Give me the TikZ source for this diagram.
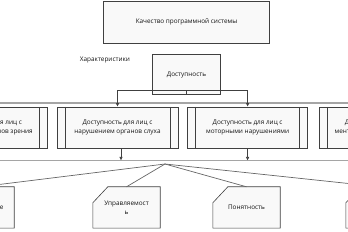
\documentclass[tikz,border=0pt]{standalone}
\usepackage{fontspec}
\setmainfont{Open Sans}
\usetikzlibrary{arrows.meta, positioning, calc, backgrounds}
\definecolor{myline}{RGB}{64,64,64}
\definecolor{mygray}{RGB}{165,165,165}
\definecolor{myfill}{RGB}{249,249,249}
\definecolor{mytext}{RGB}{20,20,20}
\tikzset{
  block/.style={rectangle, draw=myline, fill=myfill, minimum width=166pt,
    minimum height=42pt, font=\fontsize{6.4}{9}\selectfont, text=mytext,
    line width=0.6pt},
  procblock/.style={rectangle, draw=myline, fill=myfill, minimum width=121pt,
    minimum height=41pt, align=center, font=\fontsize{6.4}{9}\selectfont,
    text=mytext, line width=0.6pt,
    path picture={
      \draw[myline, line width=0.6pt]
        ([xshift=8pt]path picture bounding box.north west) --
        ([xshift=8pt]path picture bounding box.south west);
      \draw[myline, line width=0.6pt]
        ([xshift=-8pt]path picture bounding box.north east) --
        ([xshift=-8pt]path picture bounding box.south east);
    }},
  cardblock/.style={rectangle, minimum width=67pt, minimum height=41pt,
    align=center, font=\fontsize{6.4}{9}\selectfont, text=mytext},
  cardline/.style={draw=myline, fill=myfill, line width=0.6pt},
  arrow/.style={-{Latex[length=3.5pt,width=3.5pt]}, line width=0.6pt, color=myline},
  line/.style={line width=0.6pt, color=myline},
  fanline/.style={line width=0.7pt, color=myline!80},
  bar/.style={line width=1.2pt, color=mygray}
}

\begin{document}
\begin{tikzpicture}[x=1pt, y=-1pt]
  \useasboundingbox (0,0) rectangle (348,232);
  \clip (0,0) rectangle (348,232);

  % top levels
  \node[block] (q) at (186.5,22) {Качество программной системы};
  \node[block, minimum width=68pt, minimum height=40pt, below=11pt of q] (d) {Доступность};
  \node[font=\fontsize{6.4}{9}\selectfont, text=mytext] (ch) at (105,60) {Характеристики};

  % grey bars
  \coordinate (bar1l) at (0,103);
  \coordinate (bar1r) at (348,103);
  \coordinate (bar2l) at (0,160.5);
  \coordinate (bar2r) at (348,160.5);
  \draw[bar] (bar1l) -- (bar1r);
  \draw[bar] (bar2l) -- (bar2r);

  % row of accessibility kinds
  \node[procblock] (r2) at (117.5,127.5) {Доступность для лиц с\\нарушением органов слуха};
  \node[procblock, left=9pt of r2] (r1) {Доступность для лиц с\\нарушением органов зрения};
  \node[procblock, minimum width=120pt, right=9pt of r2] (r3) {Доступность для лиц с\\моторными нарушениями};
  \node[procblock, right=11pt of r3] (r4) {Доступность для лиц с\\ментальными нарушениями};

  \coordinate (j) at ($(d.south)+(0,4.5pt)$);
  \draw[line] (d.south) -- (j);
  \draw[arrow] (j) -| (r2.north);
  \draw[arrow] (j) -| (r3.north);

  \draw[arrow] ([xshift=3.5pt]r2.south) -- ([xshift=3.5pt]r2.south |- bar2l);
  \draw[arrow] (r3.south) -- (r3.south |- bar2l);

  % bottom cards
  \node[cardblock, text width=46pt, align=right] (b1) at (-19.5,207.5) {Восприятие};
  \node[cardblock] (b2) at (126.5,207.5) {Управляемост\\ь};
  \node[cardblock] (b3) at (246.5,207.5) {Понятность};
  \node[cardblock] (b4) at (379.5,207.5) {};

  \begin{scope}[on background layer]
    \foreach \n in {b1,b2,b3,b4}
      \draw[cardline] (\n.south west) -- ([yshift=-16pt]\n.north west)
        -- ([xshift=15pt]\n.north west) -- (\n.north east)
        -- (\n.south east) -- cycle;
  \end{scope}

  \coordinate (hub) at (165,164);
  \foreach \n in {b1,b2,b3,b4}
    \draw[fanline] (hub) -- (\n.north);
\end{tikzpicture}
\end{document}
